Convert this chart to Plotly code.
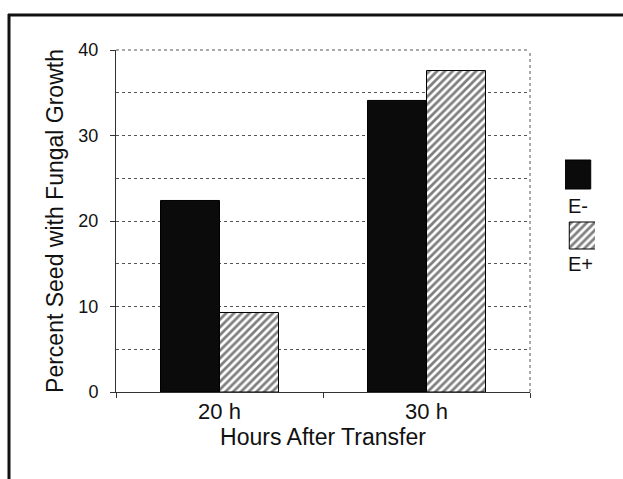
import plotly.graph_objects as go

categories = ["20 h", "30 h"]
e_minus = [22.4, 34.1]
e_plus = [9.3, 37.6]
series_names = ["E-", "E+"]
y_ticks = [0, 10, 20, 30, 40]

FONT = "Liberation Sans, Arial, sans-serif"
W, H = 623, 479
ML, MR, MT, MB = 116, 10, 50, 87
PW = W - ML - MR
PH = H - MT - MB
plot_right_px = 530


def px_x(px):
    return (px - ML) / PW


def px_y(py):
    return (H - MB - py) / PH


HATCH = dict(shape="/", fgcolor="#000000", bgcolor="white", size=5.5, solidity=0.5)

fig = go.Figure()

fig.add_trace(go.Bar(
    x=categories, y=e_minus, name=series_names[0],
    marker=dict(color="#0b0b0b", line=dict(color="#000000", width=1)),
    showlegend=False,
))
fig.add_trace(go.Bar(
    x=categories, y=e_plus, name=series_names[1],
    marker=dict(color="white", line=dict(color="#000000", width=1), pattern=HATCH),
    showlegend=False,
))

# custom legend swatches (drawn on auxiliary axes in pixel units)
fig.add_trace(go.Bar(
    x=[0.5], y=[29], base=[160], width=[1], xaxis="x2", yaxis="y2",
    marker=dict(color="#0b0b0b", line=dict(color="#000000", width=1)),
    showlegend=False, hoverinfo="skip",
))
fig.add_trace(go.Bar(
    x=[0.5], y=[27], base=[222], width=[1], xaxis="x2", yaxis="y2",
    marker=dict(color="white", line=dict(color="#000000", width=1), pattern=HATCH),
    showlegend=False, hoverinfo="skip",
))

fig.update_layout(
    width=W, height=H,
    margin=dict(l=ML, r=MR, t=MT, b=MB, pad=0),
    paper_bgcolor="white", plot_bgcolor="white",
    font=dict(family=FONT, color="#111111"),
    barmode="group", bargap=0.43, bargroupgap=0,
    xaxis=dict(
        domain=[0, px_x(plot_right_px)],
        type="category",
        showline=True, linecolor="#333333", linewidth=1,
        ticks="outside", tickson="boundaries", ticklen=5, tickcolor="#333333",
        tickfont=dict(size=22, family=FONT, color="#111111"),
        title=dict(text="Hours After Transfer", font=dict(size=23, family=FONT, color="#111111"), standoff=0),
        showgrid=False, zeroline=False,
    ),
    yaxis=dict(
        range=[0, 40],
        tickvals=y_ticks,
        showline=True, linecolor="#333333", linewidth=1,
        ticks="outside", ticklen=5, tickcolor="#333333",
        ticklabelstandoff=8,
        tickfont=dict(size=18, family=FONT, color="#111111"),
        title=dict(text="Percent Seed with Fungal Growth", font=dict(size=23, family=FONT, color="#111111"), standoff=8),
        showgrid=False, zeroline=False,
        minor=dict(dtick=5, showgrid=True, gridcolor="#555555", griddash="dot", gridwidth=1, ticks=""),
    ),
    xaxis2=dict(domain=[px_x(565), px_x(595)], range=[0, 1], anchor="y2",
                visible=False, fixedrange=True),
    yaxis2=dict(domain=[0, 1], range=[392, 50], anchor="x2",
                visible=False, fixedrange=True),
)

# dotted right and top borders of plot area
fig.add_shape(type="line", xref="x domain", yref="y domain", x0=1, x1=1, y0=0, y1=1,
              line=dict(color="#555555", width=1, dash="dot"))
fig.add_shape(type="line", xref="x domain", yref="y domain", x0=0, x1=1, y0=1, y1=1,
              line=dict(color="#555555", width=1, dash="dot"))

# outer frame (top and left thick lines)
fig.add_shape(type="line", xref="paper", yref="paper",
              x0=px_x(8), x1=px_x(640), y0=px_y(15), y1=px_y(15),
              line=dict(color="#111111", width=3))
fig.add_shape(type="line", xref="paper", yref="paper",
              x0=px_x(9), x1=px_x(9), y0=px_y(14), y1=px_y(500),
              line=dict(color="#111111", width=3))

# legend labels
for label, ypix in zip(series_names, [206, 264]):
    fig.add_annotation(text=label, xref="x2", yref="y2", x=0.02, y=ypix,
                       xanchor="left", yanchor="middle", showarrow=False,
                       font=dict(size=20, family=FONT, color="#111111"))

fig.write_html("out.html")
